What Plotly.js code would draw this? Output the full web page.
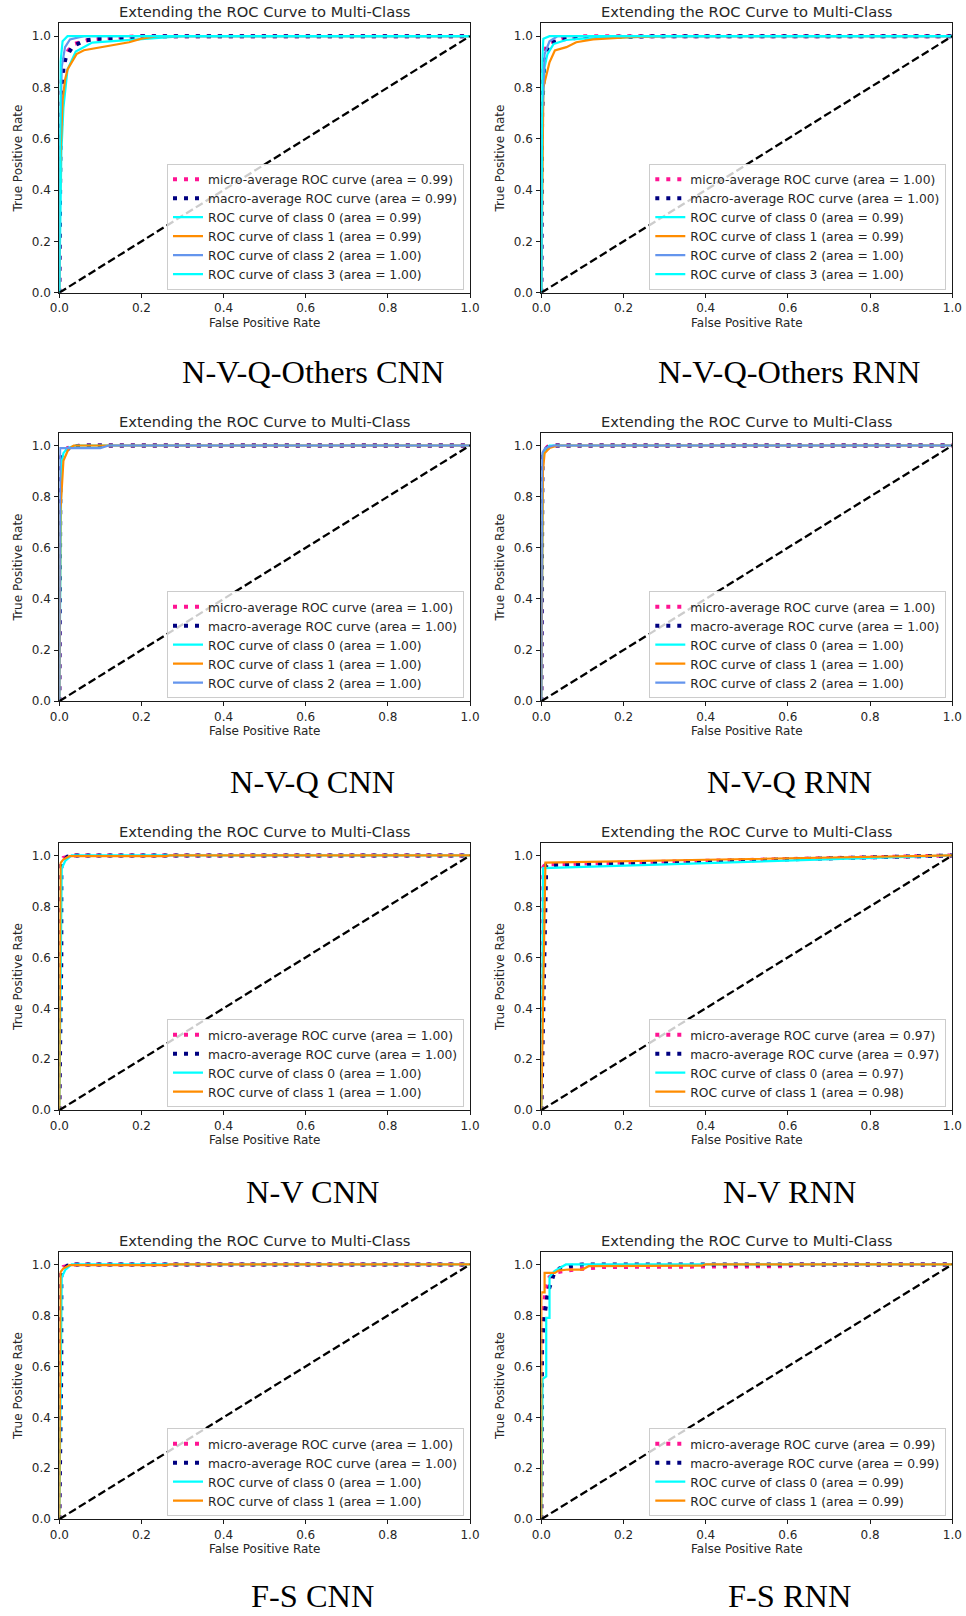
<!DOCTYPE html>
<html>
<head>
<meta charset="utf-8">
<script src="https://cdn.plot.ly/plotly-3.0.1.min.js"></script>
<style>
  html, body { margin: 0; padding: 0; background: #ffffff; }
  #chart { width: 966px; height: 1616px; }
</style>
</head>
<body>
<div id="chart"></div>
<script>
// ---------------- text ----------------
const chartTitle = 'Extending the ROC Curve to Multi-Class';
const xLabel = 'False Positive Rate';
const yLabel = 'True Positive Rate';
const captions = ['N-V-Q-Others CNN', 'N-V-Q-Others RNN', 'N-V-Q CNN', 'N-V-Q RNN',
                  'N-V CNN', 'N-V RNN', 'F-S CNN', 'F-S RNN'];
const xTicks = [0.0, 0.2, 0.4, 0.6, 0.8, 1.0];
const yTicks = [0.0, 0.2, 0.4, 0.6, 0.8, 1.0];
const chanceFpr = [0, 1];
const chanceTpr = [0, 1];

// areas: micro, macro, class 0, class 1, ...
const aucNvqoCnn = [0.99, 0.99, 0.99, 0.99, 1.00, 1.00];
const aucNvqoRnn = [1.00, 1.00, 0.99, 0.99, 1.00, 1.00];
const aucNvqCnn  = [1.00, 1.00, 1.00, 1.00, 1.00];
const aucNvqRnn  = [1.00, 1.00, 1.00, 1.00, 1.00];
const aucNvCnn   = [1.00, 1.00, 1.00, 1.00];
const aucNvRnn   = [0.97, 0.97, 0.97, 0.98];
const aucFsCnn   = [1.00, 1.00, 1.00, 1.00];
const aucFsRnn   = [0.99, 0.99, 0.99, 0.99];

// ---------------- N-V-Q-Others CNN ----------------
const nvqoCnnMicroFpr = [0, 0, 0.004, 0.01, 0.022, 0.038, 0.07, 0.12, 0.2, 1];
const nvqoCnnMicroTpr = [0, 0.55, 0.8, 0.9, 0.944, 0.97, 0.985, 0.993, 1.0, 1.0];
const nvqoCnnMacroFpr = [0, 0.003, 0.01, 0.016, 0.033, 0.063, 0.093, 0.19, 0.2, 1];
const nvqoCnnMacroTpr = [0, 0.6, 0.875, 0.918, 0.961, 0.983, 0.99, 0.992, 1.0, 1.0];
const nvqoCnnC0Fpr = [0, 0.005, 0.01, 0.015, 0.02, 0.04, 0.08, 0.2, 0.3, 1];
const nvqoCnnC0Tpr = [0, 0.55, 0.72, 0.8, 0.87, 0.94, 0.975, 0.988, 1.0, 1.0];
const nvqoCnnC1Fpr = [0, 0.002, 0.008, 0.014, 0.02, 0.03, 0.042, 0.06, 0.1, 0.13, 0.17, 0.2, 0.24, 1];
const nvqoCnnC1Tpr = [0, 0.5, 0.75, 0.83, 0.87, 0.9, 0.93, 0.945, 0.957, 0.965, 0.976, 0.99, 1.0, 1.0];
const nvqoCnnC2Fpr = [0, 0.002, 0.006, 0.014, 0.026, 0.043, 0.06, 1];
const nvqoCnnC2Tpr = [0, 0.6, 0.88, 0.957, 0.987, 0.995, 1.0, 1.0];
const nvqoCnnC3Fpr = [0, 0.003, 0.008, 0.02, 1];
const nvqoCnnC3Tpr = [0, 0.9, 0.98, 1.0, 1.0];

// ---------------- N-V-Q-Others RNN ----------------
const nvqoRnnMicroFpr = [0, 0, 0.004, 0.01, 0.02, 0.05, 0.1, 1];
const nvqoRnnMicroTpr = [0, 0.6, 0.88, 0.95, 0.975, 0.99, 1.0, 1.0];
const nvqoRnnMacroFpr = [0, 0.002, 0.008, 0.019, 0.049, 0.1, 0.3, 1];
const nvqoRnnMacroTpr = [0, 0.7, 0.92, 0.97, 0.987, 0.995, 1.0, 1.0];
const nvqoRnnC0Fpr = [0, 0.003, 0.008, 0.015, 0.03, 0.06, 0.1, 0.3, 1];
const nvqoRnnC0Tpr = [0, 0.7, 0.88, 0.93, 0.97, 0.985, 0.99, 1.0, 1.0];
const nvqoRnnC1Fpr = [0, 0.003, 0.005, 0.012, 0.02, 0.033, 0.061, 0.085, 0.126, 0.215, 0.31, 1];
const nvqoRnnC1Tpr = [0, 0.5, 0.8, 0.846, 0.898, 0.944, 0.957, 0.976, 0.987, 0.996, 1.0, 1.0];
const nvqoRnnC2Fpr = [0, 0.002, 0.008, 0.02, 0.04, 1];
const nvqoRnnC2Tpr = [0, 0.7, 0.93, 0.98, 1.0, 1.0];
const nvqoRnnC3Fpr = [0, 0.002, 0.005, 0.02, 1];
const nvqoRnnC3Tpr = [0, 0.9, 0.99, 1.0, 1.0];

// ---------------- N-V-Q CNN ----------------
const nvqCnnMicroFpr = [0, 0, 0.005, 0.02, 0.05, 1];
const nvqCnnMicroTpr = [0, 0.93, 0.96, 0.99, 1.0, 1.0];
const nvqCnnMacroFpr = [0, 0.003, 0.003, 0.01, 0.03, 0.06, 1];
const nvqCnnMacroTpr = [0, 0.6, 0.95, 0.975, 0.995, 1.0, 1.0];
const nvqCnnC0Fpr = [0, 0.005, 0.01, 0.02, 0.04, 1];
const nvqCnnC0Tpr = [0, 0.93, 0.97, 0.99, 1.0, 1.0];
const nvqCnnC1Fpr = [0, 0.003, 0.01, 0.022, 0.035, 1];
const nvqCnnC1Tpr = [0, 0.75, 0.94, 0.985, 1.0, 1.0];
const nvqCnnC2Fpr = [0, 0.002, 0.1, 0.12, 1];
const nvqCnnC2Tpr = [0, 0.99, 0.99, 1.0, 1.0];

// ---------------- N-V-Q RNN ----------------
const nvqRnnMicroFpr = [0, 0, 0.005, 0.015, 0.03, 1];
const nvqRnnMicroTpr = [0, 0.94, 0.975, 0.995, 1.0, 1.0];
const nvqRnnMacroFpr = [0, 0.003, 0.003, 0.01, 0.025, 1];
const nvqRnnMacroTpr = [0, 0.6, 0.96, 0.985, 1.0, 1.0];
const nvqRnnC0Fpr = [0, 0.004, 0.01, 0.02, 1];
const nvqRnnC0Tpr = [0, 0.96, 0.985, 1.0, 1.0];
const nvqRnnC1Fpr = [0, 0.004, 0.008, 0.02, 0.04, 1];
const nvqRnnC1Tpr = [0, 0.9, 0.97, 0.99, 1.0, 1.0];
const nvqRnnC2Fpr = [0, 0.002, 0.01, 0.03, 1];
const nvqRnnC2Tpr = [0, 0.97, 0.99, 1.0, 1.0];

// ---------------- N-V CNN ----------------
const nvCnnMicroFpr = [0, 0, 0.01, 0.03, 1];
const nvCnnMicroTpr = [0, 0.95, 0.99, 1.0, 1.0];
const nvCnnMacroFpr = [0, 0.005, 0.005, 0.02, 0.04, 1];
const nvCnnMacroTpr = [0, 0.6, 0.97, 0.995, 1.0, 1.0];
const nvCnnC0Fpr = [0, 0.003, 0.006, 0.015, 0.03, 1];
const nvCnnC0Tpr = [0, 0.6, 0.95, 0.98, 1.0, 1.0];
const nvCnnC1Fpr = [0, 0.003, 0.01, 0.025, 0.26, 0.27, 1];
const nvCnnC1Tpr = [0, 0.97, 0.985, 0.997, 0.997, 1.0, 1.0];

// ---------------- N-V RNN ----------------
const nvRnnMicroFpr = [0, 0.003, 0.01, 1];
const nvRnnMicroTpr = [0, 0.95, 0.965, 1.0];
const nvRnnMacroFpr = [0, 0.006, 0.012, 1];
const nvRnnMacroTpr = [0, 0.6, 0.962, 1.0];
const nvRnnC0Fpr = [0, 0.004, 1];
const nvRnnC0Tpr = [0, 0.95, 1.0];
const nvRnnC1Fpr = [0, 0.01, 1];
const nvRnnC1Tpr = [0, 0.972, 1.0];

// ---------------- F-S CNN ----------------
const fsCnnMicroFpr = [0, 0, 0.01, 0.03, 1];
const fsCnnMicroTpr = [0, 0.95, 0.99, 1.0, 1.0];
const fsCnnMacroFpr = [0, 0.005, 0.005, 0.02, 0.04, 1];
const fsCnnMacroTpr = [0, 0.6, 0.97, 0.995, 1.0, 1.0];
const fsCnnC0Fpr = [0, 0.003, 0.006, 0.015, 0.03, 1];
const fsCnnC0Tpr = [0, 0.58, 0.95, 0.98, 1.0, 1.0];
const fsCnnC1Fpr = [0, 0.003, 0.01, 0.025, 0.26, 0.27, 1];
const fsCnnC1Tpr = [0, 0.97, 0.985, 0.997, 0.997, 1.0, 1.0];

// ---------------- F-S RNN ----------------
const fsRnnMicroFpr = [0, 0, 0.005, 0.01, 0.02, 0.04, 0.08, 0.15, 0.6, 0.62, 1];
const fsRnnMicroTpr = [0, 0.6, 0.8, 0.9, 0.95, 0.97, 0.98, 0.99, 0.993, 1.0, 1.0];
const fsRnnMacroFpr = [0, 0.002, 0.008, 0.012, 0.016, 0.03, 0.045, 0.07, 0.1, 1];
const fsRnnMacroTpr = [0, 0.7, 0.803, 0.849, 0.89, 0.96, 0.985, 0.993, 1.0, 1.0];
const fsRnnC0Fpr = [0, 0.003, 0.012, 0.012, 0.02, 0.02, 0.032, 0.05, 0.06, 1];
const fsRnnC0Tpr = [0, 0.55, 0.56, 0.79, 0.79, 0.95, 0.974, 0.99, 1.0, 1.0];
const fsRnnC1Fpr = [0, 0, 0.008, 0.008, 0.033, 0.042, 0.065, 0.1, 0.115, 0.39, 0.4, 1];
const fsRnnC1Tpr = [0, 0.89, 0.89, 0.967, 0.967, 0.976, 0.98, 0.98, 0.993, 0.995, 1.0, 1.0];

// ---------------- assembly ----------------
const panels = [
  { auc: aucNvqoCnn, curves: [[nvqoCnnMicroFpr, nvqoCnnMicroTpr], [nvqoCnnMacroFpr, nvqoCnnMacroTpr],
      [nvqoCnnC0Fpr, nvqoCnnC0Tpr], [nvqoCnnC1Fpr, nvqoCnnC1Tpr], [nvqoCnnC2Fpr, nvqoCnnC2Tpr], [nvqoCnnC3Fpr, nvqoCnnC3Tpr]] },
  { auc: aucNvqoRnn, curves: [[nvqoRnnMicroFpr, nvqoRnnMicroTpr], [nvqoRnnMacroFpr, nvqoRnnMacroTpr],
      [nvqoRnnC0Fpr, nvqoRnnC0Tpr], [nvqoRnnC1Fpr, nvqoRnnC1Tpr], [nvqoRnnC2Fpr, nvqoRnnC2Tpr], [nvqoRnnC3Fpr, nvqoRnnC3Tpr]] },
  { auc: aucNvqCnn, curves: [[nvqCnnMicroFpr, nvqCnnMicroTpr], [nvqCnnMacroFpr, nvqCnnMacroTpr],
      [nvqCnnC0Fpr, nvqCnnC0Tpr], [nvqCnnC1Fpr, nvqCnnC1Tpr], [nvqCnnC2Fpr, nvqCnnC2Tpr]] },
  { auc: aucNvqRnn, curves: [[nvqRnnMicroFpr, nvqRnnMicroTpr], [nvqRnnMacroFpr, nvqRnnMacroTpr],
      [nvqRnnC0Fpr, nvqRnnC0Tpr], [nvqRnnC1Fpr, nvqRnnC1Tpr], [nvqRnnC2Fpr, nvqRnnC2Tpr]] },
  { auc: aucNvCnn, curves: [[nvCnnMicroFpr, nvCnnMicroTpr], [nvCnnMacroFpr, nvCnnMacroTpr],
      [nvCnnC0Fpr, nvCnnC0Tpr], [nvCnnC1Fpr, nvCnnC1Tpr]] },
  { auc: aucNvRnn, curves: [[nvRnnMicroFpr, nvRnnMicroTpr], [nvRnnMacroFpr, nvRnnMacroTpr],
      [nvRnnC0Fpr, nvRnnC0Tpr], [nvRnnC1Fpr, nvRnnC1Tpr]] },
  { auc: aucFsCnn, curves: [[fsCnnMicroFpr, fsCnnMicroTpr], [fsCnnMacroFpr, fsCnnMacroTpr],
      [fsCnnC0Fpr, fsCnnC0Tpr], [fsCnnC1Fpr, fsCnnC1Tpr]] },
  { auc: aucFsRnn, curves: [[fsRnnMicroFpr, fsRnnMicroTpr], [fsRnnMacroFpr, fsRnnMacroTpr],
      [fsRnnC0Fpr, fsRnnC0Tpr], [fsRnnC1Fpr, fsRnnC1Tpr]] }
];

const W = 966, H = 1616;
const colLeft = [59.3, 541.3], colRight = [470.0, 952.3];
const rowTop = [23.3, 432.7, 842.7, 1251.7], rowBottom = [292.7, 701.2, 1110.2, 1519.2];
const captionX = [312.5, 789.0];
const classColors = ['aqua', 'darkorange', 'cornflowerblue'];
const FONT = 'DejaVu Sans, Verdana, sans-serif';
const TXT = '#262626';

const traces = [];
const layout = {
  width: W, height: H,
  margin: { l: 0, r: 0, t: 0, b: 0 },
  paper_bgcolor: '#ffffff', plot_bgcolor: '#ffffff',
  hovermode: false,
  font: { family: FONT, size: 12, color: TXT },
  annotations: []
};

const f2 = v => v.toFixed(2);

panels.forEach((p, i) => {
  const row = Math.floor(i / 2), col = i % 2;
  const n = i + 1;
  const xa = 'x' + (n === 1 ? '' : n), ya = 'y' + (n === 1 ? '' : n);
  const xKey = 'xaxis' + (n === 1 ? '' : n), yKey = 'yaxis' + (n === 1 ? '' : n);
  const lgKey = 'legend' + (n === 1 ? '' : n);
  const x0 = colLeft[col], x1 = colRight[col], y0 = rowTop[row], y1 = rowBottom[row];

  const axCommon = {
    showgrid: false, zeroline: false,
    showline: true, mirror: true, linecolor: '#1a1a1a', linewidth: 1,
    ticks: 'outside', ticklen: 4, tickwidth: 1, tickcolor: '#1a1a1a',
    tickfont: { family: FONT, size: 12, color: TXT },
    tickformat: '.1f', fixedrange: true
  };
  layout[xKey] = Object.assign({}, axCommon, {
    domain: [x0 / W, x1 / W], range: [0, 1], anchor: ya,
    tickvals: xTicks,
    title: { text: xLabel, font: { family: FONT, size: 12, color: TXT }, standoff: 4 }
  });
  layout[yKey] = Object.assign({}, axCommon, {
    domain: [1 - y1 / H, 1 - y0 / H], range: [0, 1.05], anchor: xa,
    tickvals: yTicks, ticklabelstandoff: 1,
    title: { text: yLabel, font: { family: FONT, size: 12, color: TXT }, standoff: 6 }
  });

  layout[lgKey] = {
    x: (x1 - 6) / W, xanchor: 'right', xref: 'paper',
    y: 1 - (y1 - 3) / H, yanchor: 'bottom', yref: 'paper',
    bgcolor: 'rgba(255,255,255,0.8)', bordercolor: '#cccccc', borderwidth: 1,
    font: { family: FONT, size: 12.3, color: TXT },
    itemwidth: 30, tracegroupgap: 0
  };

  p.curves.forEach((c, k) => {
    let name, line;
    if (k === 0) {
      name = 'micro-average ROC curve (area = ' + f2(p.auc[0]) + ')';
      line = { color: 'deeppink', width: 4, dash: '4px,7px' };
    } else if (k === 1) {
      name = 'macro-average ROC curve (area = ' + f2(p.auc[1]) + ')';
      line = { color: 'navy', width: 4, dash: '4px,7px' };
    } else {
      const cls = k - 2;
      name = 'ROC curve of class ' + cls + ' (area = ' + f2(p.auc[k]) + ')';
      line = { color: classColors[cls % 3], width: 2.2 };
    }
    traces.push({
      type: 'scatter', mode: 'lines', x: c[0], y: c[1],
      xaxis: xa, yaxis: ya, name: name, line: line,
      legend: lgKey, showlegend: true
    });
  });
  traces.push({
    type: 'scatter', mode: 'lines', x: chanceFpr, y: chanceTpr,
    xaxis: xa, yaxis: ya, showlegend: false, legend: lgKey,
    line: { color: 'black', width: 2.3, dash: '8px,3.5px' }
  });

  layout.annotations.push({
    text: chartTitle, xref: 'paper', yref: 'paper',
    x: (x0 + x1) / 2 / W, y: 1 - (y0 - 11.5) / H,
    xanchor: 'center', yanchor: 'middle', showarrow: false,
    font: { family: FONT, size: 14.7, color: TXT }
  });
  layout.annotations.push({
    text: captions[i], xref: 'paper', yref: 'paper',
    x: captionX[col] / W, y: Math.max(0, 1 - (y0 + 369) / H),
    xanchor: 'center', yanchor: 'bottom', showarrow: false,
    font: { family: 'Liberation Serif, Times New Roman, serif', size: 32.4, color: '#000000' }
  });
});

Plotly.newPlot('chart', traces, layout, { staticPlot: true, displayModeBar: false });
</script>
</body>
</html>
